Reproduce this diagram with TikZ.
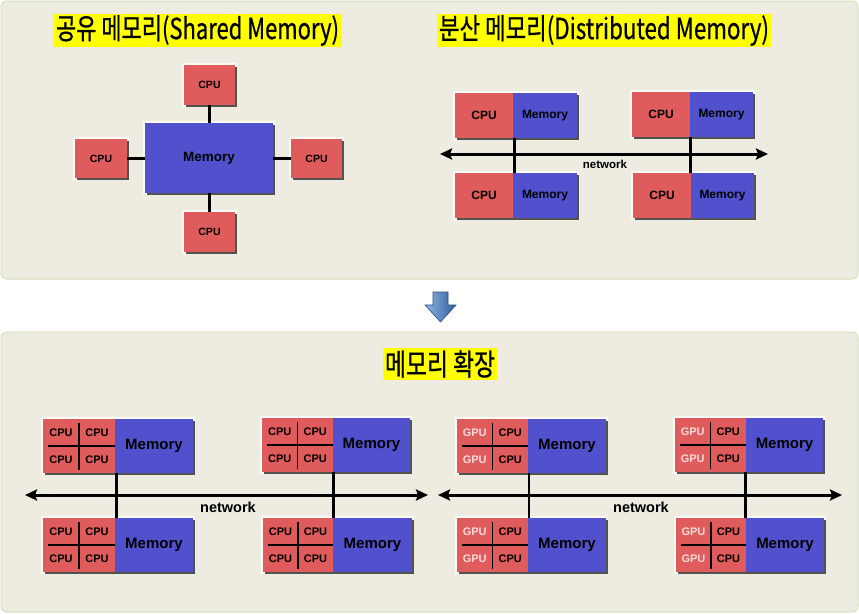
\documentclass[tikz,border=0pt]{standalone}
\usepackage{fontspec}
\usepackage{graphicx}
\usetikzlibrary{arrows.meta,shadows,calc}
\newfontfamily\kr{Noto Sans CJK KR}[FakeBold=0.8]
\newfontfamily\ar{Liberation Sans}
\newcommand\fS{\fontsize{10.5}{12}\ar\bfseries}
\newcommand\fSm{\fontsize{13.5}{15}\ar\bfseries}
\newcommand\fD{\fontsize{12}{14}\ar\bfseries}
\newcommand\fDn{\fontsize{11.5}{13}\ar\bfseries}
\newcommand\fQ{\fontsize{11}{13}\ar\bfseries}
\newcommand\fQm{\fontsize{15}{17}\ar\bfseries}
\newcommand\fQn{\fontsize{14.5}{16}\ar\bfseries}
\definecolor{cpured}{HTML}{E05B5B}
\definecolor{memblue}{HTML}{5151CE}
\definecolor{panelbg}{HTML}{EEECE1}
\definecolor{panelline}{HTML}{D6E0BC}
\definecolor{gpuw}{HTML}{F6DADA}
\definecolor{arrowlight}{HTML}{8FB6E2}
\definecolor{arrowdark}{HTML}{2F5E9C}
\definecolor{titleyellow}{HTML}{FFFF00}
\tikzset{
  panel/.style={fill=panelbg, draw=panelline, line width=1pt, rounded corners=6pt},
  glow/.style={preaction={draw=white, line width=3.5pt, draw opacity=.75}},
  shade box/.style={drop shadow={shadow xshift=2pt, shadow yshift=-2.4pt, fill=black!75, opacity=.9}},
  unitbox/.style={glow, shade box, fill=cpured, anchor=north west, inner sep=0pt, outer sep=0pt},
  membox/.style={fill=memblue, anchor=north west, inner sep=0pt, outer sep=0pt, font=#1},
  lab/.style={inner sep=0pt, font=#1},
  link/.style={line width=2.3pt, black},
  cross/.style={line width=1.5pt, black},
  net/.style={line width=3pt, black, {Stealth[length=12pt,width=11pt,inset=2pt]}-{Stealth[length=12pt,width=11pt,inset=2pt]}},
  title/.style={fill=titleyellow, anchor=north west, inner sep=0pt, outer sep=0pt},
}
\newcommand\munit[7]{%
  \node[unitbox, minimum width={#5-#2}, minimum height={#6-#3}] (#1) at (#2,#3) {};
  \node[membox=#7, minimum width={#5-#4}, minimum height={#6-#3}] (#1m) at (#4,#3) {Memory};
}
\newcommand\dunit[6]{%
  \munit{#1}{#2}{#3}{#4}{#5}{#6}{\fD}
  \node[lab=\fD] (#1c) at ({(#2+#4)/2},{(#3+#6)/2}) {CPU};
}
\newcommand\qunit[7]{%
  \munit{#1}{#2}{#3}{#4}{#5}{#6}{\fQm}
  \node[lab=\fQ] (#1a) at ({#2+(#4-#2)/4},{#3+(#6-#3)/4}) {#7};
  \node[lab=\fQ] (#1b) at ({#2+3*(#4-#2)/4},{#3+(#6-#3)/4}) {CPU};
  \node[lab=\fQ] (#1c) at ({#2+(#4-#2)/4},{#3+3*(#6-#3)/4}) {#7};
  \node[lab=\fQ] (#1d) at ({#2+3*(#4-#2)/4},{#3+3*(#6-#3)/4}) {CPU};
  \draw[cross] ({(#2+#4)/2},{#3+4}) -- ({(#2+#4)/2},{#6-3});
  \draw[cross] ({#2+5},{(#3+#6)/2}) -- (#4,{(#3+#6)/2});
}
\newcommand\gpu{\textcolor{gpuw}{GPU}}
\begin{document}
\begin{tikzpicture}[x=1pt,y=-1pt]
\useasboundingbox[fill=white] (0,0) rectangle (859,613);
% panels
\draw[panel] (1,1) rectangle (858,279);
\draw[panel] (1,332) rectangle (858,612);
% titles
\node[title, minimum width=289, minimum height=33] (t1) at (53,14) {\raisebox{-2.5pt}{\resizebox{283pt}{24pt}{\kr 공유 메모리(Shared Memory)}}};
\node[title, minimum width=334, minimum height=33] (t2) at (437,14) {\raisebox{-2.5pt}{\resizebox{330pt}{24pt}{\kr 분산 메모리(Distributed Memory)}}};
\node[title, minimum width=114, minimum height=32] (t3) at (383,348) {\raisebox{-1pt}{\resizebox{110pt}{25pt}{\kr 메모리 확장}}};
% shared memory
\node[unitbox, fill=memblue, minimum width=128, minimum height=70, font=\fSm] (sm) at (145,123) {Memory};
\node[unitbox, minimum width=51, minimum height=40, font=\fS] (cT) at (184,65) {CPU};
\node[unitbox, minimum width=52, minimum height=39, font=\fS] (cL) at (75,139) {CPU};
\node[unitbox, minimum width=51, minimum height=39, font=\fS] (cR) at (291,139) {CPU};
\node[unitbox, minimum width=51, minimum height=40, font=\fS] (cB) at (184,212) {CPU};
\draw[link] (cT.south) -- (cT.south |- sm.north);
\draw[link] (cB.north) -- (cB.north |- sm.south);
\draw[link] (cL.east) -- (cL.east -| sm.west);
\draw[link] (cR.west) -- (cR.west -| sm.east);
% distributed memory
\dunit{dA}{455}{93}{513}{577}{138}
\dunit{dB}{632}{92}{690}{753}{137}
\dunit{dC}{455}{173}{513}{577}{218}
\dunit{dD}{633}{173}{691}{754}{218}
\draw[link] ($(dAm.south west)+(1.5,0)$) -- ($(dCm.north west)+(1.5,0)$);
\draw[link] ($(dBm.south west)+(0.5,0)$) -- ($(dDm.north west)+(-0.5,0)$);
\coordinate (dnL) at (440,154);
\coordinate (dnR) at (768,154);
\draw[net] (dnL) -- (dnR);
\node[lab=\fDn] (dnet) at (605,164) {network};
% arrow
\draw[left color=arrowlight, right color=arrowdark, draw=arrowdark!80!black, line width=.6pt]
  (433,292) -- (448,292) -- (448,305) -- (456,305) -- (440.5,322) -- (425,305) -- (433,305) -- cycle;
% expanded: CPU quads
\qunit{bA}{43}{419}{115}{193}{473}{CPU}
\qunit{bB}{262}{418}{333}{410}{472}{CPU}
\qunit{bC}{43}{518}{115}{193}{572}{CPU}
\qunit{bD}{263}{518}{333}{412}{572}{CPU}
\draw[link] ($(bAm.south west)+(1.5,0)$) -- ($(bCm.north west)+(1.5,0)$);
\draw[link] ($(bBm.south west)+(0.5,0)$) -- ($(bDm.north west)+(0.5,0)$);
\coordinate (bnL) at (25,495);
\coordinate (bnR) at (428,495);
\draw[net] (bnL) -- (bnR);
\node[lab=\fQn] (bnet) at (228,507) {network};
% expanded: GPU quads
\qunit{gA}{457}{419}{528}{606}{473}{\gpu}
\qunit{gB}{675}{418}{746}{823}{472}{\gpu}
\qunit{gC}{457}{518}{528}{606}{572}{\gpu}
\qunit{gD}{676}{518}{746}{824}{572}{\gpu}
\draw[link] ($(gAm.south west)+(1,0)$) -- ($(gCm.north west)+(1,0)$);
\draw[link] ($(gBm.south west)+(-0.5,0)$) -- ($(gDm.north west)+(-0.5,0)$);
\coordinate (gnL) at (438,495);
\coordinate (gnR) at (842,495);
\draw[net] (gnL) -- (gnR);
\node[lab=\fQn] (gnet) at (641,507) {network};
\end{tikzpicture}
\end{document}
